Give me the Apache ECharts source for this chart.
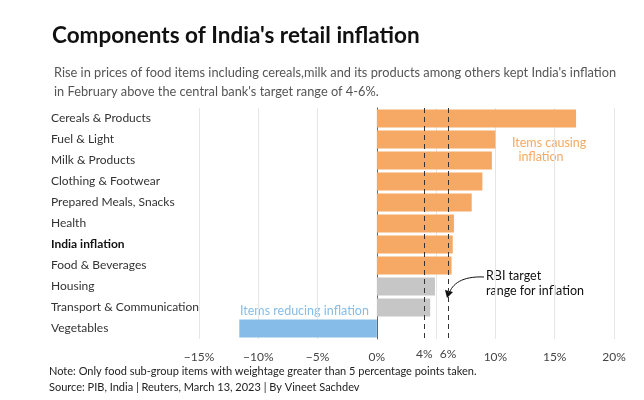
<!DOCTYPE html>
<html><head><meta charset="utf-8">
<script src="https://cdn.jsdelivr.net/npm/echarts@6/dist/echarts.min.js"></script>
<style>body{margin:0}#c{width:644px;height:400px}</style></head>
<body><div id="c"></div>
<script>
const categories=["Cereals & Products","Fuel & Light","Milk & Products","Clothing & Footwear","Prepared Meals, Snacks","Health","India inflation","Food & Beverages","Housing","Transport & Communication","Vegetables"];
const values=[16.8,10.0,9.7,8.9,8.0,6.5,6.4,6.3,4.9,4.5,-11.6];
const groups=["up","up","up","up","up","up","up","up","mid","mid","down"];
const rbiRange=[4,6];
const colors={up:"#f5a964",mid:"#c6c6c6",down:"#85bde8"};
const F="Source Sans Pro, Lato, sans-serif";
const chart=echarts.init(document.getElementById('c'));
chart.setOption({
 animation:false,
 grid:{left:199,right:30,top:108,bottom:61},
 title:[{text:"Components of India's retail inflation",left:47,top:19,textStyle:{fontFamily:F,fontSize:22.5,fontWeight:'bold',color:'#111'}},
  {text:"Rise in prices of food items including cereals,milk and its products among others kept India's inflation\nin February above the central bank's target range of 4-6%.",left:49,top:58,textStyle:{fontFamily:F,fontSize:12.8,color:'#555',lineHeight:19,fontWeight:'normal'}}],
 xAxis:{type:'value',min:-15,max:20,interval:5,axisLine:{show:false},axisTick:{show:false},
  splitLine:{lineStyle:{color:'#e6e6e6'}},axisLabel:{fontFamily:F,fontSize:12,color:'#444',formatter:v=>v===5?'':(v<0?'−'+(-v)+'%':v+'%'),margin:12}},
 yAxis:{type:'category',data:categories,inverse:true,axisLine:{show:true,onZero:true,lineStyle:{color:'#666'}},axisTick:{show:false},
  axisLabel:{align:'left',margin:148,fontFamily:F,fontSize:12,color:'#333',formatter:v=>v==="India inflation"?'{b|'+v+'}':v,rich:{b:{fontWeight:'bold',fontSize:12,color:'#111',fontFamily:F}}}},
 series:[{type:'bar',barWidth:'86%',data:values.map((v,i)=>({value:v,itemStyle:{color:colors[groups[i]]}})),
  markLine:{symbol:'none',silent:true,label:{show:true,position:'end',distance:9,formatter:p=>p.value+'%',fontFamily:F,fontSize:12,color:'#444'},lineStyle:{color:'#333',type:[5,4],width:1},data:rbiRange.map(v=>({xAxis:v}))}}],
 graphic:[
  {type:'text',left:512,top:136,style:{text:"Items causing\n  inflation",fontFamily:F,fontSize:12.5,fill:'#f5a964',lineHeight:14}},
  {type:'text',left:240,top:304,style:{text:"Items reducing inflation",fontFamily:F,fontSize:12.5,fill:'#85bde8'}},
  {type:'text',left:486,top:268,style:{text:"RBI target\nrange for inflation",fontFamily:F,fontSize:12.5,fill:'#111',lineHeight:15}},
  {type:'bezierCurve',shape:{x1:484,y1:277,x2:449,y2:294,cpx1:462,cpy1:276,cpx2:452,cpy2:284},style:{stroke:'#111',lineWidth:1,fill:null}},
  {type:'polygon',shape:{points:[[447,298],[445,290],[453,292]]},style:{fill:'#111'}},
  {type:'text',left:49,top:363,style:{text:"Note: Only food sub-group items with weightage greater than 5 percentage points taken.\nSource: PIB, India | Reuters, March 13, 2023 | By Vineet Sachdev",fontFamily:F,fontSize:11,fill:'#222',lineHeight:16}}
 ]
});
</script></body></html>
